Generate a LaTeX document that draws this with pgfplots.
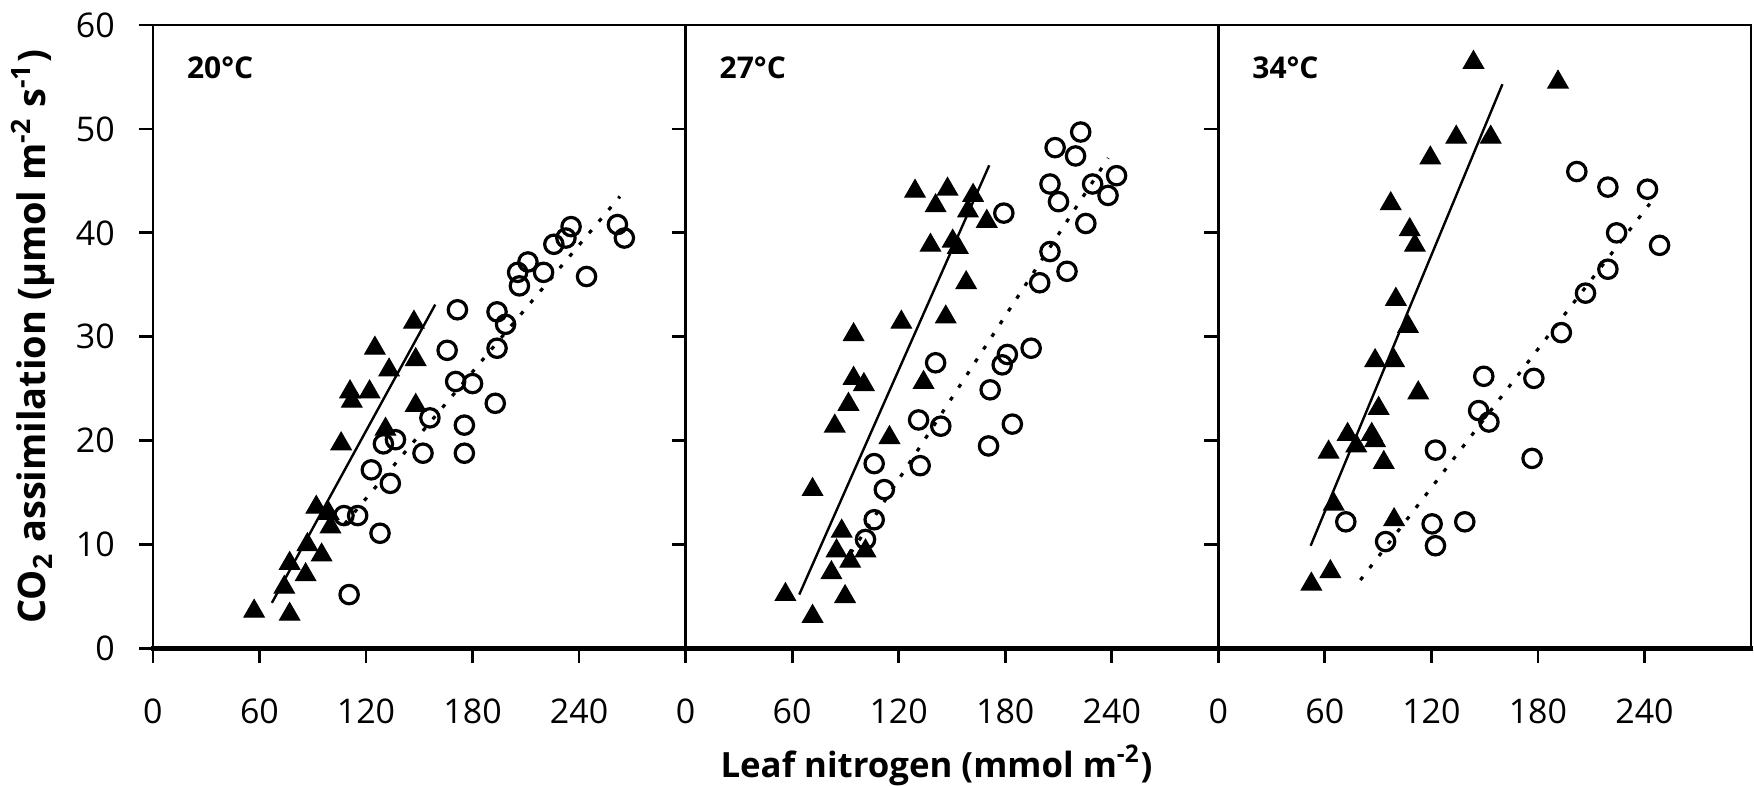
\documentclass[border=0pt]{standalone}
\usepackage{fontspec}
\setmainfont{Open Sans}
\usepackage{pgfplots}
\pgfplotsset{compat=1.18}
\usepgfplotslibrary{groupplots}

\pgfplotsset{
  tri/.style={only marks, mark=triangle*, mark size=2.9pt, black, mark options={fill=black, line width=0.3pt}},
  circ/.style={only marks, mark=o, mark size=2.3pt, black, mark options={line width=0.8pt}},
  fitsolid/.style={no marks, black, line width=0.6pt},
  fitdot/.style={no marks, black, line width=0.8pt, dash pattern=on 1pt off 2.8pt},
}
\tikzset{plabel/.style={anchor=west, font=\bfseries\fontsize{7.5}{9}\selectfont},
  bottomline/.style={line width=1.1pt, line cap=rect}}

\begin{document}
\begin{tikzpicture}
\begin{groupplot}[
  group style={group size=3 by 1, horizontal sep=0pt, y descriptions at=edge left},
  scale only axis, width=133.25pt, height=156pt,
  xmin=0, xmax=300, ymin=0, ymax=60,
  xtick={0,60,120,180,240}, ytick={0,10,...,60},
  xtick pos=left, ytick pos=left, tick align=outside,
  major tick length=3.5pt,
  axis line style={line width=0.7pt},
  every tick/.style={black, line width=0.7pt},
  tick label style={font=\fontsize{8.5}{10}\selectfont},
  /pgf/number format/assume math mode=true,
  xticklabel style={yshift=-5.5pt},
  yticklabel style={xshift=-2.5pt},
  ylabel style={at={(axis description cs:-0.225,0.5)}, rotate=0, anchor=center, font=\bfseries\fontsize{9.5}{11}\selectfont},
  xlabel style={at={(axis description cs:0.471,-0.1875)}, anchor=center, font=\bfseries\fontsize{8.7}{10}\selectfont},
  clip=false,
]
% ---------- 20 C ----------
\nextgroupplot[ylabel={CO\textsubscript{2} assimilation (μmol m\textsuperscript{-2} s\textsuperscript{-1})}]
\draw[bottomline] (axis description cs:0,0) -- (axis description cs:1,0);
\addplot[tri] coordinates {
(57,3.6) (77,3.3) (74,5.9) (77,8.2) (86,7.1) (87,10.0) (95,9.0) (92,13.6) (99,13.0) (100,11.7)
(106,19.7) (111,24.7) (112,23.8) (122,24.7) (125,28.9) (133,26.8) (131,21.1) (148,23.4) (148,27.8) (147,31.4)
};
\addplot[circ] coordinates {
(110.5,5.2) (107.6,12.8) (115.3,12.8) (127.9,11.1) (123,17.2) (129.8,19.7) (136.6,20.1) (133.7,15.9)
(152.1,18.8) (156,22.2) (170.5,25.7) (180,25.5) (175.4,21.5) (175.4,18.8) (165.7,28.7) (171.5,32.6)
(192.8,23.6) (193.8,28.9) (193.8,32.4) (198.6,31.2) (206.4,34.9) (205.4,36.2) (211.2,37.2) (220,36.2)
(225.8,38.9) (232.6,39.5) (235.5,40.6) (244.2,35.8) (261.6,40.8) (265.5,39.5)
};
\addplot[fitsolid] coordinates {(67,4.4) (159,33.1)};
\addplot[fitdot] coordinates {(108,12) (263,43.5)};
\node[plabel] at (axis description cs:0.0375,0.932) {20°C};
% ---------- 27 C ----------
\nextgroupplot[xlabel={Leaf nitrogen (mmol m\textsuperscript{-2})}]
\draw[bottomline] (axis description cs:0,0) -- (axis description cs:1,0);
\addplot[tri] coordinates {
(56.2,5.2) (71.5,3.1) (89.8,5.0) (82.1,7.3) (85,9.4) (92.7,8.4) (101.3,9.4) (87.9,11.3) (71.5,15.3)
(84,21.4) (91.7,23.5) (94.6,26) (100.4,25.4) (94.6,30.2) (114.8,20.3) (121.5,31.4) (134,25.6)
(146.5,31.9) (158,35.2) (137.9,38.8) (150.4,39.2) (153.3,38.6) (140.8,42.6) (129.2,44.0) (147.5,44.2)
(161.9,43.6) (159,42.1) (169.6,41.1)
};
\addplot[circ] coordinates {
(101.3,10.5) (106.2,12.4) (111.9,15.3) (106.2,17.8) (132.1,17.6) (131.2,22) (143.7,21.4) (140.8,27.5)
(170.6,19.5) (184,21.6) (171.5,24.9) (178.3,27.3) (181.2,28.3) (194.6,28.9) (179.2,41.9) (199.4,35.2)
(205.2,38.2) (214.8,36.3) (205.2,44.7) (210,43) (208.1,48.2) (219.6,47.4) (222.5,49.7) (225.4,40.9)
(229.2,44.7) (237.9,43.6) (242.7,45.5)
};
\addplot[fitsolid] coordinates {(64,5.2) (171,46.5)};
\addplot[fitdot] coordinates {(93,9.2) (238,47.2)};
\node[plabel] at (axis description cs:0.0375,0.932) {27°C};
% ---------- 34 C ----------
\nextgroupplot
\draw[bottomline] (axis description cs:0,0) -- (axis description cs:1,0);
\addplot[tri] coordinates {
(52.4,6.2) (63.1,7.4) (65,13.9) (62.1,18.9) (72.8,20.6) (77.7,19.5) (86.4,20.6) (88.3,20) (93.2,17.9)
(90.3,23.1) (99,12.4) (88.3,27.7) (99,27.7) (112.6,24.6) (106.8,31) (100,33.6) (110.7,38.8)
(107.8,40.3) (97.1,42.8) (119.4,47.2) (134,49.2) (153.4,49.2) (143.7,56.4) (191.3,54.5)
};
\addplot[circ] coordinates {
(71.8,12.2) (94.2,10.3) (120.4,12) (122.3,9.9) (138.8,12.2) (122.3,19.1) (149.5,26.2) (146.6,22.9)
(152.4,21.8) (176.7,18.3) (177.7,26) (193.2,30.4) (206.8,34.2) (219.4,36.5) (224.3,40) (248.5,38.8)
(201.9,45.9) (219.4,44.4) (241.7,44.2)
};
\addplot[fitsolid] coordinates {(52,9.9) (160,54.3)};
\addplot[fitdot] coordinates {(80,6.6) (243,42.8)};
\node[plabel] at (axis description cs:0.0375,0.932) {34°C};
\end{groupplot}
\pgfresetboundingbox
\path[use as bounding box] ([xshift=-38.25pt,yshift=-34.25pt]group c1r1.south west) rectangle ([xshift=0.75pt,yshift=6.25pt]group c3r1.north east);
\end{tikzpicture}
\end{document}
